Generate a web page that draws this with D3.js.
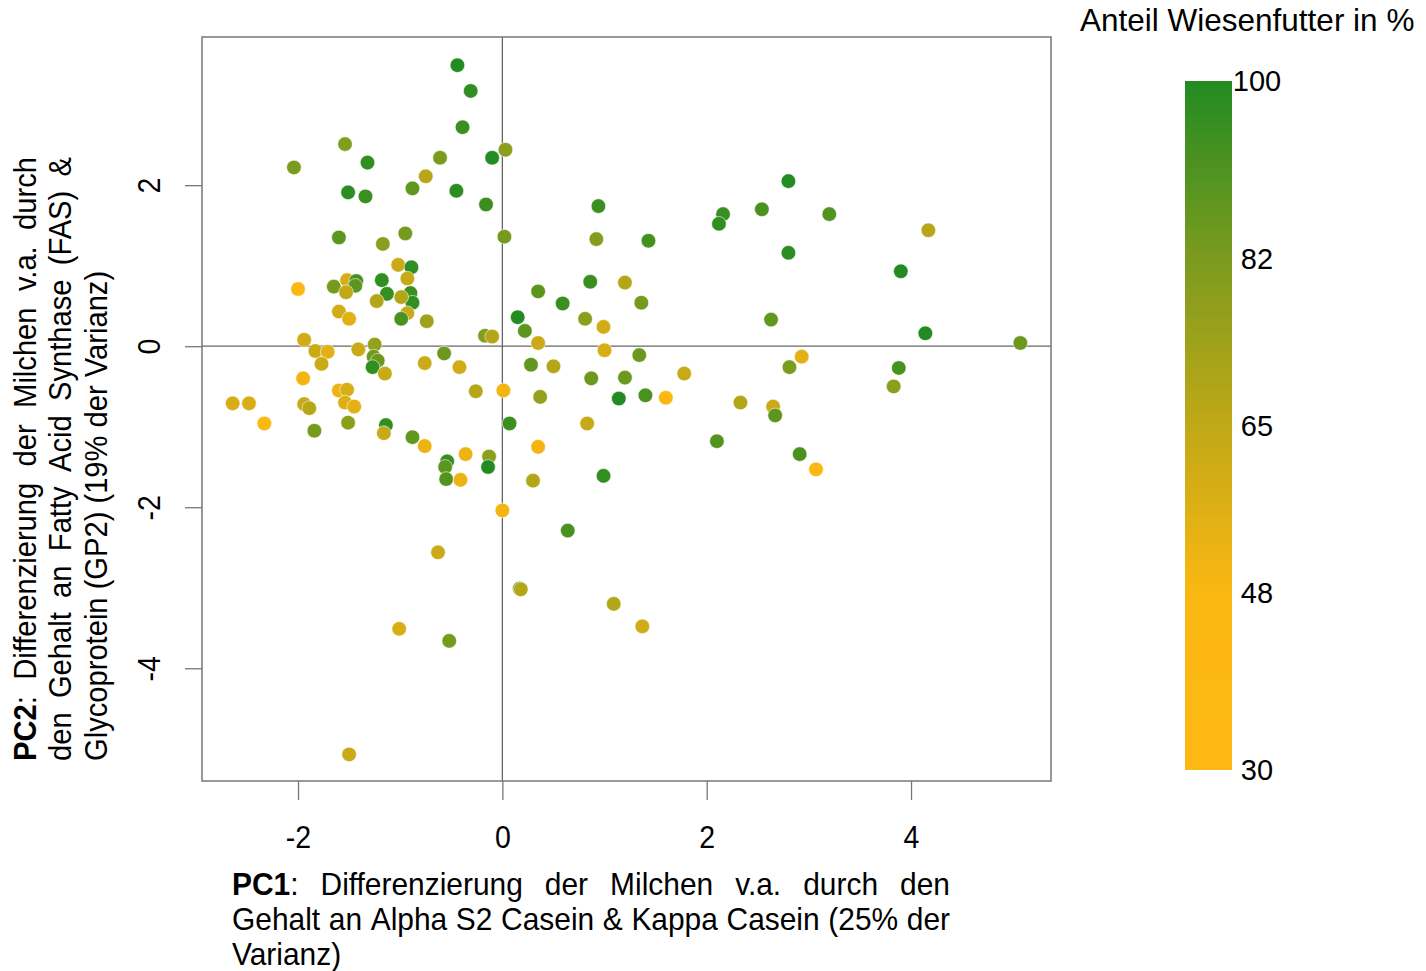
<!DOCTYPE html>
<html>
<head>
<meta charset="utf-8">
<script src="https://cdn.jsdelivr.net/npm/d3@7"></script>
<style>
  body { margin: 0; background: #fff; }
  text { font-family: "Liberation Sans", Arial, sans-serif; fill: #000; }
</style>
</head>
<body>
<div id="chart"></div>
<script>
(function(d3) {
  "use strict";

  // PC1 / PC2 scores and share of grass feed (%) per milk sample
  var pc1 = [
    -0.44, -0.31, -0.39, -1.54, 0.03, -2.04, -1.32, -0.61, -0.10, -0.75,
    -1.51, -1.34, -0.88, -0.45, -0.16, -1.60, -1.17, -0.95, 0.02, -1.02,
    -0.89, -0.93, -2.00, -1.65, -1.52, -1.43, -1.44, -1.53, -1.18, -1.13,
    -0.90, -0.88, -0.99, -1.23, -0.93, -0.99, -0.74, -1.60, -1.50, -1.94,
    -0.17, -0.10, 0.15, 0.22,
    -1.83, -1.71, -1.77, -1.41, -1.25, -1.26, -1.22, -1.27, -1.15, -0.76,
    -0.57, -0.42, -1.95, -1.60, -1.52, -1.54, -1.45, -2.64, -2.48, -2.33,
    -1.94, -1.89, -1.84, -1.51, -1.14, -1.16, -0.88, -0.76, -0.26, 0.01,
    0.07, -0.54, -0.56, -0.55, -0.41, -0.36, -0.13, -0.14, 0.00, -0.63,
    -1.01, -0.52, -1.50,
    0.94, 0.92, 1.43, 2.16, 2.12, 2.54, 2.80, 2.80, 0.35, 0.59,
    0.86, 1.20, 1.36, 0.81, 0.99, 0.35, 2.63,
    1.00, 1.34, 0.28, 0.50, 0.87, 1.20, 1.78, 2.93, 2.81, 0.37,
    1.14, 1.40, 1.60, 2.33, 2.65, 2.67, 0.83, 0.35, 2.10, 2.91,
    3.07, 0.30, 0.99, 0.64, 0.17, 0.18, 1.09, 1.37,
    3.20, 4.17, 3.90, 4.14, 5.07, 3.88, 3.83
  ];
  var pc2 = [
    3.49, 3.17, 2.72, 2.51, 2.44, 2.22, 2.28, 2.34, 2.34, 2.11,
    1.91, 1.86, 1.96, 1.93, 1.76, 1.35, 1.27, 1.40, 1.36, 1.01,
    0.98, 0.84, 0.71, 0.74, 0.82, 0.81, 0.75, 0.67, 0.82, 0.65,
    0.66, 0.54, 0.61, 0.56, 0.41, 0.34, 0.31, 0.43, 0.34, 0.08,
    0.13, 0.12, 0.36, 0.19,
    -0.06, -0.07, -0.22, -0.04, 0.02, -0.13, -0.18, -0.26, -0.34, -0.21,
    -0.09, -0.26, -0.40, -0.55, -0.54, -0.70, -0.75, -0.71, -0.71, -0.96,
    -0.72, -0.77, -1.05, -0.95, -0.98, -1.08, -1.13, -1.24, -0.56, -0.55,
    -0.96, -1.43, -1.50, -1.65, -1.66, -1.34, -1.37, -1.50, -2.04, -2.56,
    -3.51, -3.66, -5.07,
    1.74, 1.33, 1.31, 1.64, 1.52, 1.70, 2.05, 1.16, 0.68, 0.53,
    0.80, 0.79, 0.54, 0.34, 0.24, 0.04, 0.33,
    -0.05, -0.11, -0.23, -0.25, -0.40, -0.39, -0.34, -0.13, -0.26, -0.63,
    -0.65, -0.61, -0.64, -0.70, -0.75, -0.86, -0.96, -1.25, -1.18, -1.34,
    -1.53, -1.67, -1.61, -2.29, -3.01, -3.02, -3.20, -3.48,
    1.64, 1.44, 0.93, 0.16, 0.04, -0.27, -0.50
  ];
  var anteil = [
    100, 97, 95, 80, 78, 82, 97, 82, 100, 67,
    98, 95, 87, 98, 95, 88, 78, 83, 83, 62,
    97, 63, 48, 83, 58, 92, 88, 65, 97, 96,
    95, 97, 68, 68, 63, 92, 73, 60, 55, 60,
    80, 68, 100, 88,
    62, 55, 62, 62, 75, 85, 85, 97, 63, 62,
    85, 60, 50, 52, 58, 57, 55, 58, 58, 48,
    63, 67, 83, 78, 97, 63, 87, 52, 67, 50,
    95, 95, 88, 90, 52, 52, 78, 100, 50, 62,
    58, 83, 62,
    95, 80, 93, 95, 97, 92, 100, 98, 88, 95,
    95, 68, 83, 78, 60, 62, 87,
    58, 85, 87, 68, 85, 85, 63, 55, 82, 75,
    100, 92, 48, 68, 62, 88, 63, 50, 90, 92,
    48, 68, 97, 92, 88, 68, 68, 60,
    90, 67, 100, 100, 85, 92, 78
  ];

  var xTicks = [-2, 0, 2, 4];
  var yTicks = [-4, -2, 0, 2];
  var legendTicks = [30, 48, 65, 82, 100];
  var legendColors = ["#fdb813", "#fbb712", "#c0a818", "#7b9b1e", "#228b22"];
  var legendTitle = "Anteil Wiesenfutter in %";
  var xLabelLines = [
    "PC1: Differenzierung der Milchen v.a. durch den",
    "Gehalt an Alpha S2 Casein & Kappa Casein (25% der",
    "Varianz)"
  ];
  var yLabelLines = [
    "PC2: Differenzierung der Milchen v.a. durch",
    "den Gehalt an Fatty Acid Synthase (FAS) &",
    "Glycoprotein (GP2) (19% der Varianz)"
  ];

  var W = 1426, H = 971;
  var plot = {left: 202, top: 37, right: 1051, bottom: 781};
  var bar = {left: 1185, width: 47, top: 81, bottom: 770};
  var fmt = function(d) { return String(d); };

  var svg = d3.select("#chart").append("svg")
    .attr("width", W).attr("height", H);

  var x = d3.scaleLinear().domain([-2.94, 5.37]).range([plot.left, plot.right]);
  var y = d3.scaleLinear().domain([-5.40, 3.84]).range([plot.bottom, plot.top]);
  var color = d3.scaleLinear().domain(legendTicks).range(legendColors).clamp(true);

  // Nulllinien
  svg.append("line")
    .attr("x1", x(0)).attr("x2", x(0))
    .attr("y1", plot.top).attr("y2", plot.bottom)
    .attr("stroke", "#666").attr("stroke-width", 1.3);
  svg.append("line")
    .attr("x1", plot.left).attr("x2", plot.right)
    .attr("y1", y(0)).attr("y2", y(0))
    .attr("stroke", "#666").attr("stroke-width", 1.3);

  // Punkte
  var data = pc1.map(function(d, i) { return {x: d, y: pc2[i], v: anteil[i]}; });
  svg.append("g").selectAll("circle")
    .data(data).enter().append("circle")
    .attr("cx", function(d) { return x(d.x); })
    .attr("cy", function(d) { return y(d.y); })
    .attr("r", 7.3)
    .attr("fill", function(d) { return color(d.v); })
    .attr("stroke", "#fff")
    .attr("stroke-opacity", 0.7)
    .attr("stroke-width", 0.8);

  // Rahmen
  svg.append("rect")
    .attr("x", plot.left).attr("y", plot.top)
    .attr("width", plot.right - plot.left).attr("height", plot.bottom - plot.top)
    .attr("fill", "none").attr("stroke", "#777").attr("stroke-width", 1.5);

  // Achsen
  var gx = svg.append("g")
    .attr("transform", `translate(0,${plot.bottom})`)
    .call(d3.axisBottom(x).tickValues(xTicks).tickSize(19).tickFormat(fmt));
  gx.select(".domain").remove();
  gx.selectAll(".tick line").attr("stroke", "#777").attr("stroke-width", 1.3);
  gx.selectAll(".tick text")
    .attr("y", null).attr("dy", null)
    .attr("font-size", 31)
    .attr("transform", "translate(0,67) scale(0.92,1)");

  var gy = svg.append("g")
    .attr("transform", `translate(${plot.left},0)`)
    .call(d3.axisLeft(y).tickValues(yTicks).tickSize(17).tickFormat(fmt));
  gy.select(".domain").remove();
  gy.selectAll(".tick line").attr("stroke", "#777").attr("stroke-width", 1.3);
  gy.selectAll(".tick text")
    .attr("x", null).attr("dy", null)
    .attr("text-anchor", "middle")
    .attr("font-size", 31)
    .attr("transform", "translate(-42,0) rotate(-90) scale(0.92,1)");

  // Achsentitel, Blocksatz
  function drawLines(g, lines, width, lineHeight) {
    lines.forEach(function(line, k) {
      var words = line.split(" ");
      var nodes = words.map(function(w) {
        var t = g.append("text").attr("y", k * lineHeight).attr("font-size", 31);
        if (/^PC\d:/.test(w)) {
          t.append("tspan").attr("font-weight", "bold").text(w.slice(0, 3));
          t.append("tspan").text(w.slice(3));
        } else {
          t.text(w);
        }
        return t;
      });
      var lens = nodes.map(function(t) { return t.node().getComputedTextLength(); });
      var last = k === lines.length - 1;
      var gap = last ? 31 * 0.278 : (width - d3.sum(lens)) / (words.length - 1);
      var cx = 0;
      nodes.forEach(function(t, i) { t.attr("x", cx); cx += lens[i] + gap; });
    });
  }

  var sx = 0.965, sy = 0.94;
  var xl = svg.append("g").attr("transform", `translate(232,895) scale(${sx},1)`);
  drawLines(xl, xLabelLines, (950 - 232) / sx, 35);

  var yl = svg.append("g").attr("transform", `translate(36,761) rotate(-90) scale(${sy},1)`);
  drawLines(yl, yLabelLines, (761 - 157) / sy, 35.5);

  // Farblegende
  var defs = svg.append("defs");
  var grad = defs.append("linearGradient")
    .attr("id", "legendGrad")
    .attr("x1", 0).attr("y1", 1).attr("x2", 0).attr("y2", 0);
  d3.range(0, 1.0001, 0.02).forEach(function(t) {
    grad.append("stop")
      .attr("offset", t)
      .attr("stop-color", color(30 + t * 70));
  });
  var ly = d3.scaleLinear().domain([30, 100]).range([bar.bottom, bar.top]);
  svg.append("rect")
    .attr("x", bar.left).attr("y", ly(100))
    .attr("width", bar.width).attr("height", ly(30) - ly(100))
    .attr("fill", "url(#legendGrad)");
  svg.append("g").selectAll("text")
    .data(legendTicks).enter().append("text")
    .attr("x", 1257)
    .attr("y", function(d) { return ly(d); })
    .attr("dy", "0.36em")
    .attr("text-anchor", "middle")
    .attr("font-size", 29)
    .text(fmt);
  svg.append("text")
    .attr("x", 1080).attr("y", 31)
    .attr("font-size", 31.5)
    .text(legendTitle);

})(d3);
</script>
</body>
</html>
